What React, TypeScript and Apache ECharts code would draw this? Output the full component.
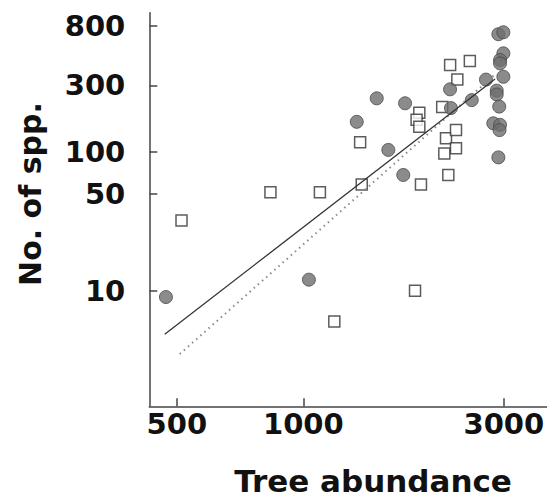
import React, { useEffect, useRef } from "react";
import * as echarts from "echarts";

// Tick labels
const xTicks = [500, 1000, 3000];
const yTicks = [10, 50, 100, 300, 800];

// Open squares: [tree abundance, no. of spp.]
const openSquares: [number, number][] = [
  [513, 32],
  [835, 51],
  [1095, 51],
  [1377, 58],
  [1365, 117],
  [1185, 6],
  [1844, 10],
  [1905, 58],
  [1888, 191],
  [1860, 170],
  [1888, 151],
  [2140, 210],
  [2235, 420],
  [2490, 450],
  [2325, 330],
  [2185, 125],
  [2308, 143],
  [2308, 106],
  [2165, 97],
  [2213, 68],
];

// Filled circles: [tree abundance, no. of spp.]
const filledCircles: [number, number][] = [
  [471, 9],
  [1031, 12],
  [1340, 164],
  [1495, 242],
  [1593, 103],
  [1746, 223],
  [1729, 68],
  [2234, 281],
  [2245, 206],
  [2516, 235],
  [2720, 330],
  [2911, 700],
  [2992, 723],
  [2992, 510],
  [2938, 457],
  [2938, 432],
  [2992, 346],
  [2885, 275],
  [2885, 258],
  [2925, 211],
  [2832, 160],
  [2938, 156],
  [2930, 143],
  [2911, 91],
];

// Fitted lines (endpoints)
const solidFit: [number, number][] = [
  [468, 4.86],
  [2859, 333],
];
const dottedFit: [number, number][] = [
  [508, 3.5],
  [2859, 360],
];

export default function App() {
  const ref = useRef<HTMLDivElement>(null);

  useEffect(() => {
    if (!ref.current) return;
    const chart = echarts.init(ref.current, undefined, { renderer: "svg" });
    const tickFont = {
      fontFamily: '"DejaVu Sans", sans-serif',
      fontWeight: "bold" as const,
      fontSize: 29,
      color: "#111",
    };
    chart.setOption({
      animation: false,
      backgroundColor: "#ffffff",
      grid: {
        left: 149.3,
        right: 0,
        top: 12.7,
        bottom: 92.7,
        outerBoundsMode: "none",
      },
      xAxis: {
        type: "log",
        logBase: 10,
        min: 430,
        max: 3800,
        splitLine: { show: false },
        axisLine: { show: true, lineStyle: { color: "#444", width: 1.5 } },
        axisTick: {
          show: true,
          inside: true,
          length: 8,
          customValues: xTicks,
          lineStyle: { color: "#444", width: 1.5 },
        },
        axisLabel: {
          ...tickFont,
          margin: 3,
          customValues: xTicks,
          formatter: (v: number) => String(v),
        },
      },
      yAxis: {
        type: "log",
        logBase: 10,
        min: 1.473,
        max: 1000,
        splitLine: { show: false },
        axisLine: { show: true, lineStyle: { color: "#444", width: 1.5 } },
        axisTick: {
          show: true,
          inside: true,
          length: 8,
          customValues: yTicks,
          lineStyle: { color: "#444", width: 1.5 },
        },
        axisLabel: {
          ...tickFont,
          margin: 24,
          customValues: yTicks,
          formatter: (v: number) => String(v),
        },
      },
      graphic: [
        {
          type: "text",
          x: 373,
          y: 481,
          style: {
            text: "Tree abundance",
            x: 0,
            y: 0,
            fill: "#111",
            font: 'bold 31px "DejaVu Sans", sans-serif',
            lineHeight: 30,
            textAlign: "center",
            textVerticalAlign: "middle",
          },
        },
        {
          type: "text",
          x: 30,
          y: 194,
          rotation: Math.PI / 2,
          style: {
            text: "No. of spp.",
            x: 0,
            y: 0,
            fill: "#111",
            font: 'bold 30px "DejaVu Sans", sans-serif',
            textAlign: "center",
            textVerticalAlign: "middle",
          },
        },
      ],
      series: [
        {
          type: "scatter",
          name: "squares",
          symbol: "rect",
          symbolSize: 11,
          data: openSquares,
          itemStyle: { color: "#ffffff", borderColor: "#333", borderWidth: 1.5 },
          z: 2,
        },
        {
          type: "scatter",
          name: "circles",
          symbol: "circle",
          symbolSize: 13,
          data: filledCircles,
          itemStyle: { color: "#6e6e6e", borderColor: "#4a4a4a", borderWidth: 1 },
          z: 3,
        },
        {
          type: "line",
          name: "dotted fit",
          data: dottedFit,
          showSymbol: false,
          symbol: "none",
          lineStyle: { color: "#8a8a8a", width: 2, type: [1.5, 4] },
          z: 4,
        },
        {
          type: "line",
          name: "solid fit",
          data: solidFit,
          showSymbol: false,
          symbol: "none",
          lineStyle: { color: "#333", width: 1.3 },
          z: 5,
        },
      ],
    });
    return () => chart.dispose();
  }, []);

  return (
    <div
      ref={ref}
      style={{ position: "fixed", left: 0, top: 0, width: 547, height: 499, background: "#fff" }}
    />
  );
}
